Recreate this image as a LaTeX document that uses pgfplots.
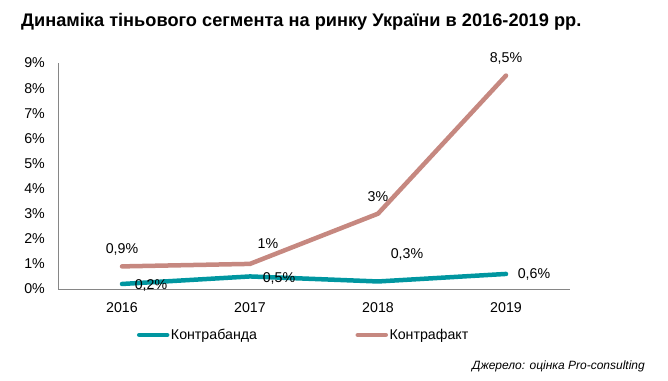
\documentclass[border=0pt]{standalone}
\usepackage{fontspec}
\setmainfont{Liberation Sans}
\usepackage{pgfplots}
\pgfplotsset{compat=1.18}
\definecolor{teal1}{RGB}{0,150,160}
\definecolor{rose1}{RGB}{198,136,128}
\definecolor{axgray}{RGB}{134,134,134}
\begin{document}
\begin{tikzpicture}
\path[use as bounding box] (0pt,0pt) rectangle (668pt,380pt);
\node[anchor=base west, font=\fontsize{18.2}{20}\selectfont\bfseries, inner sep=0] at (21pt,353pt) {Динаміка тіньового сегмента на ринку України в 2016-2019 рр.};
\begin{axis}[
 at={(58pt,91pt)}, anchor=south west, scale only axis, width=512pt, height=226pt,
 xmin=-0.5, xmax=3.5, ymin=0, ymax=9,
 axis x line*=bottom, axis y line*=left,
 axis line style={axgray, line width=1pt, -},
 xtick={0,1,2,3}, xticklabels={2016,2017,2018,2019},
 ytick={0,1,...,9}, yticklabel={\pgfmathprintnumber{\tick}\%},
 major tick length=0pt,
 tick label style={font=\fontsize{14.2}{16}\selectfont, inner sep=0pt, text=black},
 yticklabel style={anchor=east, xshift=-13pt},
 xticklabel style={anchor=north, yshift=-13pt},
 /pgf/number format/assume math mode=true,
 /pgf/number format/use comma,
 clip=false,
 point meta=y,
 nodes near coords={\pgfmathprintnumber{\pgfplotspointmeta}\%},
 visualization depends on={\thisrow{dx} \as \dx},
 visualization depends on={\thisrow{dy} \as \dy},
 nodes near coords style={font=\fontsize{14.2}{16}\selectfont, anchor=center, inner sep=0pt, xshift=\dx pt, yshift=\dy pt, text=black},
 legend columns=2,
 legend style={at={(0.148,-0.2035)}, anchor=west, draw=none, fill=none, font=\fontsize{14.2}{16}\selectfont, nodes={inner xsep=1.5pt}, /tikz/every even column/.append style={column sep=97pt}},
 legend image code/.code={\draw[#1] (0pt,0pt) -- (28pt,0pt);},
]
\addplot[teal1, line width=4.5pt, line cap=round, line join=round, no marks] table[x=x, y=y] {
x y dx dy
0 0.2 29 -1
1 0.5 29 -2
2 0.3 29 27
3 0.6 28 -1
};
\addlegendentry{Контрабанда}
\addplot[rose1, line width=4.5pt, line cap=round, line join=round, no marks] table[x=x, y=y] {
x y dx dy
0 0.9 0 17
1 1 18 20
2 3 0 17
3 8.5 0 17
};
\addlegendentry{Контрафакт}
\end{axis}
\node[anchor=base east, font=\fontsize{12}{14}\selectfont\itshape, inner sep=0] at (645pt,11pt) {Джерело: оцінка Pro-consulting};
\end{tikzpicture}
\end{document}
